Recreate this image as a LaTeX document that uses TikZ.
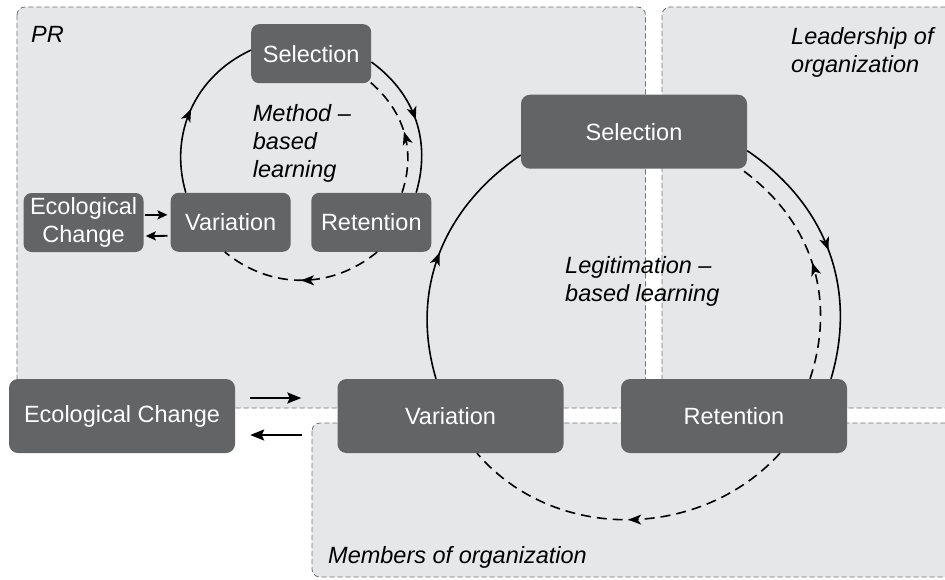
\documentclass[tikz,border=0pt]{standalone}
\usepackage{fontspec}
\setmainfont{Liberation Sans}
\usepackage{tikz}
\usetikzlibrary{positioning,arrows.meta,decorations.markings}

\definecolor{stagegray}{HTML}{636466}
\definecolor{areagray}{HTML}{E6E7E8}
\definecolor{rimgray}{HTML}{6F7072}

\begin{document}
\begin{tikzpicture}[x=1pt,y=1pt,
  bigstage/.style={fill=stagegray, text=white, rounded corners=9pt, minimum width=226pt, minimum height=74pt, inner sep=0pt, font=\fontsize{23.5}{28}\selectfont},
  smallstage/.style={bigstage, rounded corners=8pt, minimum width=120pt, minimum height=59pt, align=center},
  area/.style={fill=areagray, draw=rimgray, line width=0.8pt, dash pattern=on 5pt off 3pt, rounded corners=8pt},
  lbl/.style={inner sep=0pt, font=\fontsize{23.5}{28}\selectfont\itshape},
  cyc/.style={line width=1.6pt, postaction={decorate}, decoration={markings, mark=at position 0.5 with {\arrow{Stealth[length=13pt,width=10pt,inset=3.5pt]}}}},
  back/.style={cyc, dash pattern=on 10pt off 6pt},
  flow/.style={line width=2.1pt, -{Stealth[length=14pt,width=11pt,inset=2.5pt]}},
  smallflow/.style={line width=1.8pt, -{Stealth[length=10pt,width=9pt,inset=2pt]}}
]
\useasboundingbox (0,0) rectangle (945,-579);
\clip (0,0) rectangle (945,-579);
\fill[white] (0,0) rectangle (945,-579);

% areas
\draw[area] (17,-7) rectangle (645.5,-408);
\draw[area] (662,-7) rectangle (960,-408);
\draw[area] (312,-423) rectangle (960,-577);

\node[lbl, anchor=base west] (pr) at (31,-42) {PR};
\node[lbl, anchor=north west, align=left] (lead) at (791,-27) {Leadership of\\organization};
\node[lbl, anchor=base west] (memb) at (328,-563) {Members of organization};
\node[lbl, anchor=north west, align=left] (meth) at (252.7,-104) {Method –\\based\\learning};
\node[lbl, anchor=north west, align=left] (legit) at (565,-256) {Legitimation –\\based learning};

% small cycle
\node[smallstage] (ssel) at (311.2,-53.7) {Selection};
\node[smallstage] (svar) at (230.7,-222.3) {Variation};
\node[smallstage] (sret) at (371.3,-222.3) {Retention};
\node[smallstage] (secol) at (83.6,-222.5) {Ecological\\Change};

% large cycle
\node[bigstage] (lsel) at (634,-131.7) {Selection};
\node[bigstage] (lvar) at (450.5,-416) {Variation};
\node[bigstage] (lret) at (734,-416) {Retention};
\node[bigstage] (lecol) at (122,-416) {Ecological Change};

\draw[cyc] ([xshift=-44.9pt]svar.north) to[out=106.3,in=204.8] ([yshift=3.6pt]ssel.west);
\draw[cyc] ([yshift=-8.3pt]ssel.east) to[out=-36.1,in=73.7] ([xshift=44.9pt]sret.north);
\draw[back] ([xshift=30.7pt]sret.north) to[out=71.6,in=-40.3] ([xshift=-2pt,yshift=2pt]ssel.south east);
\draw[back] ([xshift=5.9pt]sret.south) to[out=-140.6,in=-39.4] ([xshift=-5.9pt]svar.south);

\draw[cyc] ([xshift=-14.5pt]lvar.north) to[out=106.5,in=214.2] ([yshift=-23.3pt]lsel.west);
\draw[cyc] ([yshift=-19pt]lsel.east) to[out=-34,in=73.5] ([xshift=97pt]lret.north);
\draw[back] ([xshift=76pt]lret.north) to[out=71.7,in=-36.1] ([xshift=-5pt,yshift=-1pt]lsel.south east);
\draw[back] ([xshift=46pt]lret.south) to[out=-132.2,in=-49.5] ([xshift=26.5pt]lvar.south);

\draw[smallflow, shorten <=1pt, shorten >=3pt] ([yshift=7.5pt]secol.east) -- ([yshift=7.5pt]svar.west);
\draw[smallflow, shorten <=3pt, shorten >=2pt] ([yshift=-13.5pt]svar.west) -- ([yshift=-13.5pt]secol.east);
\draw[flow, shorten <=15pt, shorten >=36pt] ([yshift=18pt]lecol.east) -- ([yshift=18pt]lvar.west);
\draw[flow, shorten <=35pt, shorten >=15pt] ([yshift=-19pt]lvar.west) -- ([yshift=-19pt]lecol.east);
\end{tikzpicture}
\end{document}
